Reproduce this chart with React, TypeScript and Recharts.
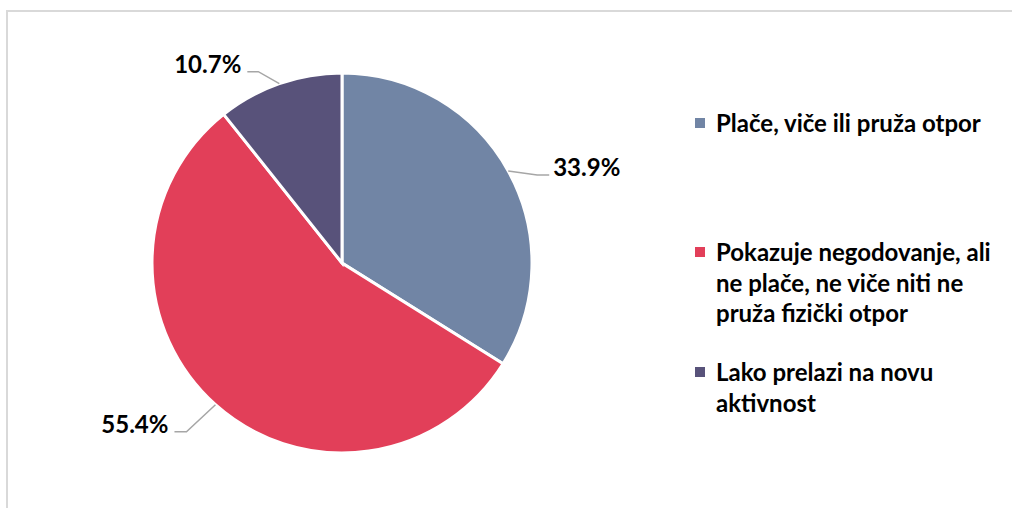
import React from 'react';
import { PieChart, Pie, Cell, Legend } from 'recharts';

const categories = [
  'Plače, viče ili pruža otpor',
  'Pokazuje negodovanje, ali ne plače, ne viče niti ne pruža fizički otpor',
  'Lako prelazi na novu aktivnost',
];
const values = [33.9, 55.4, 10.7];
const legendLines = [
  ['Plače, viče ili pruža otpor'],
  ['Pokazuje negodovanje, ali', 'ne plače, ne viče niti ne', 'pruža fizički otpor'],
  ['Lako prelazi na novu', 'aktivnost'],
];
const colors = ['#7185A5', '#E23F59', '#58527A'];

const data = categories.map((name, i) => ({ name, value: values[i] }));

const RADIAN = Math.PI / 180;
const FONT = 'Lato, "Open Sans", sans-serif';
const leader = [
  { ex: 29, ey: 4, h: 12 },
  { ex: -29, ey: 27, h: -12 },
  { ex: -21, ey: -12, h: -11 },
];

const renderLabel = (props: any) => {
  const { cx, cy, midAngle, outerRadius, index, value } = props;
  const sx = cx + outerRadius * Math.cos(-midAngle * RADIAN);
  const sy = cy + outerRadius * Math.sin(-midAngle * RADIAN);
  const o = leader[index];
  const mx = sx + o.ex;
  const my = sy + o.ey;
  const ex = mx + o.h;
  const right = o.h > 0;
  return (
    <g>
      <polyline
        points={`${sx},${sy} ${mx},${my} ${ex},${my}`}
        fill="none"
        stroke="#A6A6A6"
        strokeWidth={1.5}
      />
      <text
        x={ex + (right ? 4 : -6)}
        y={my + 1}
        textAnchor={right ? 'start' : 'end'}
        fontFamily={FONT}
        fontWeight={700}
        fontSize={24}
        fill="#000"
      >
        {Number(value).toFixed(1)}%
      </text>
    </g>
  );
};

const itemTops = [108, 237, 357];

const renderLegend = (props: any) => {
  const payload = props.payload || [];
  return (
    <div style={{ position: 'relative', width: 320, height: 508 }}>
      {payload.map((p: any, k: number) => {
        const i = categories.indexOf(p.value) >= 0 ? categories.indexOf(p.value) : k;
        return (
          <div key={i} style={{ position: 'absolute', left: 0, top: itemTops[i] }}>
            <div
              style={{
                position: 'absolute',
                left: 0,
                top: 10,
                width: 10,
                height: 10,
                background: colors[i],
              }}
            />
            <div
              style={{
                position: 'absolute',
                left: 21,
                top: 0,
                whiteSpace: 'nowrap',
                fontFamily: FONT,
                fontWeight: 700,
                fontSize: 24,
                lineHeight: '30.5px',
                color: '#000',
              }}
            >
              {legendLines[i].map((l, j) => (
                <div key={j}>{l}</div>
              ))}
            </div>
          </div>
        );
      })}
    </div>
  );
};

export default function App() {
  return (
    <div style={{ position: 'absolute', left: 0, top: 0, width: 1012, height: 508, overflow: 'hidden', background: '#fff' }}>
      <div
        style={{
          position: 'absolute',
          left: 6,
          top: 10,
          width: 1006,
          height: 498,
          borderTop: '2px solid #D9D9D9',
          borderLeft: '2px solid #D9D9D9',
          boxSizing: 'border-box',
        }}
      />
      <div style={{ position: 'absolute', left: 0, top: 0 }}>
        <PieChart width={1012} height={508} margin={{ top: 0, right: 0, bottom: 0, left: 0 }}>
          <Pie
            data={data}
            dataKey="value"
            nameKey="name"
            cx={342}
            cy={263}
            outerRadius={190}
            startAngle={90}
            endAngle={-270}
            stroke="#fff"
            strokeWidth={3}
            label={renderLabel}
            labelLine={false}
            isAnimationActive={false}
          >
            {data.map((d, i) => (
              <Cell key={d.name} fill={colors[i]} />
            ))}
          </Pie>
          <Legend
            content={renderLegend}
            wrapperStyle={{ left: 695, top: 0, width: 320, height: 508 }}
          />
        </PieChart>
      </div>
    </div>
  );
}
